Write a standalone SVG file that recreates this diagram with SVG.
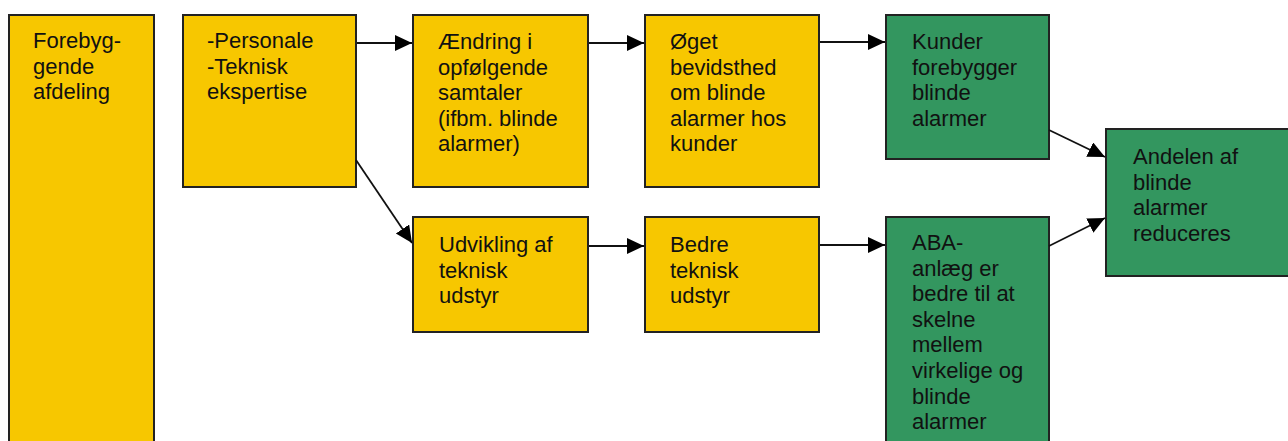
<svg xmlns="http://www.w3.org/2000/svg" width="1288" height="441" viewBox="0 0 1288 441">
<style>
.y{fill:#F7C700;stroke:#222;stroke-width:2}
.g{fill:#33965F;stroke:#222;stroke-width:2}
text{font-family:"Liberation Sans",Arial,sans-serif;font-size:22px;fill:#111}
.c{stroke:#111;stroke-width:1.8;fill:none;marker-end:url(#ah)}
</style>
<defs>
<marker id="ah" markerUnits="userSpaceOnUse" markerWidth="20" markerHeight="18" refX="17" refY="8" orient="auto">
<path d="M0,0 L17,8 L0,16 z" fill="#000"/>
</marker>
</defs>
<rect width="1288" height="441" fill="#fff"/>
<g id="n1"><rect class="y" x="9" y="15" width="145" height="440"/>
<text x="33" y="48"><tspan x="33">Forebyg-</tspan><tspan x="33" dy="25.6">gende</tspan><tspan x="33" dy="25.6">afdeling</tspan></text></g>
<g id="n2"><rect class="y" x="183" y="15" width="173" height="172"/>
<text x="207" y="48"><tspan x="207">-Personale</tspan><tspan x="207" dy="25.6">-Teknisk</tspan><tspan x="207" dy="25.6">ekspertise</tspan></text></g>
<g id="n3"><rect class="y" x="413" y="15" width="175" height="172"/>
<text x="438" y="49"><tspan x="438">Ændring i</tspan><tspan x="438" dy="25.6">opfølgende</tspan><tspan x="438" dy="25.6">samtaler</tspan><tspan x="438" dy="25.6">(ifbm. blinde</tspan><tspan x="438" dy="25.6">alarmer)</tspan></text></g>
<g id="n4"><rect class="y" x="645" y="15" width="174" height="172"/>
<text x="670" y="49"><tspan x="670">Øget</tspan><tspan x="670" dy="25.6">bevidsthed</tspan><tspan x="670" dy="25.6">om blinde</tspan><tspan x="670" dy="25.6">alarmer hos</tspan><tspan x="670" dy="25.6">kunder</tspan></text></g>
<g id="n5"><rect class="g" x="886" y="15" width="163" height="144"/>
<text x="912" y="49"><tspan x="912">Kunder</tspan><tspan x="912" dy="25.6">forebygger</tspan><tspan x="912" dy="25.6">blinde</tspan><tspan x="912" dy="25.6">alarmer</tspan></text></g>
<g id="n6"><rect class="g" x="1106" y="129" width="200" height="147"/>
<text x="1133" y="164"><tspan x="1133">Andelen af</tspan><tspan x="1133" dy="25.6">blinde</tspan><tspan x="1133" dy="25.6">alarmer</tspan><tspan x="1133" dy="25.6">reduceres</tspan></text></g>
<g id="n7"><rect class="y" x="413" y="217" width="175" height="115"/>
<text x="439" y="252"><tspan x="439">Udvikling af</tspan><tspan x="439" dy="25.6">teknisk</tspan><tspan x="439" dy="25.6">udstyr</tspan></text></g>
<g id="n8"><rect class="y" x="645" y="217" width="174" height="115"/>
<text x="670" y="252"><tspan x="670">Bedre</tspan><tspan x="670" dy="25.6">teknisk</tspan><tspan x="670" dy="25.6">udstyr</tspan></text></g>
<g id="n9"><rect class="g" x="886" y="217" width="163" height="240"/>
<text x="912" y="250"><tspan x="912">ABA-</tspan><tspan x="912" dy="25.6">anlæg er</tspan><tspan x="912" dy="25.6">bedre til at</tspan><tspan x="912" dy="25.6">skelne</tspan><tspan x="912" dy="25.6">mellem</tspan><tspan x="912" dy="25.6">virkelige og</tspan><tspan x="912" dy="25.6">blinde</tspan><tspan x="912" dy="25.6">alarmer</tspan></text></g>
<g id="connectors">
<line class="c" x1="357" y1="43" x2="412" y2="43"/>
<line class="c" x1="589" y1="43" x2="644" y2="43"/>
<line class="c" x1="820" y1="42" x2="885" y2="42"/>
<line class="c" x1="356" y1="160" x2="412" y2="243"/>
<line class="c" x1="589" y1="246" x2="644" y2="246"/>
<line class="c" x1="820" y1="245" x2="885" y2="245"/>
<line class="c" x1="1049" y1="130" x2="1105" y2="157"/>
<line class="c" x1="1049" y1="246" x2="1105" y2="218"/>
</g>
</svg>
